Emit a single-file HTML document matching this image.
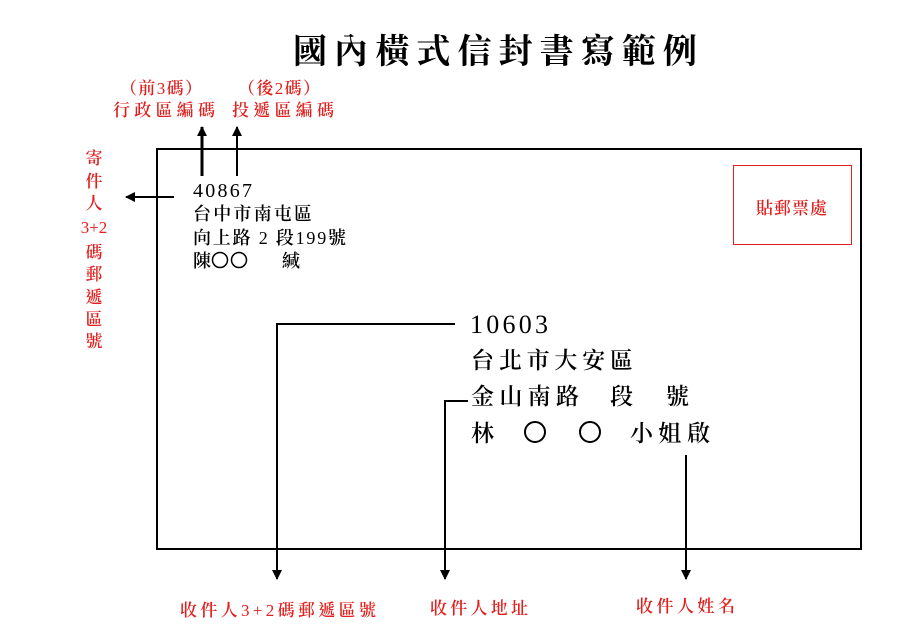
<!DOCTYPE html>
<html><head><meta charset="utf-8"><style>
html,body{margin:0;padding:0;background:#fff;}
svg{display:block;}
text{font-family:"Liberation Serif","Noto Serif CJK TC","Noto Serif CJK SC",serif;font-weight:600;}
text.n{font-weight:normal;}
text.t{font-weight:bold;}
</style></head><body>
<svg width="900" height="636" viewBox="0 0 900 636" xmlns="http://www.w3.org/2000/svg">
<defs>
<marker id="ah" markerWidth="10" markerHeight="10" refX="9" refY="5" orient="auto" markerUnits="userSpaceOnUse">
<path d="M0,0 L10,5 L0,10 Z" fill="#000"/>
</marker>
</defs>
<text class="t" x="293" y="63" font-size="34" textLength="404" lengthAdjust="spacing" fill="#000">國內橫式信封書寫範例</text>
<g fill="#e0201e" font-size="17">
<text x="120" y="94" textLength="82" lengthAdjust="spacing">（前<tspan style="font-weight:normal">3</tspan>碼）</text>
<text x="113" y="116" textLength="102" lengthAdjust="spacing">行政區編碼</text>
<text x="238" y="94" textLength="82" lengthAdjust="spacing">（後<tspan style="font-weight:normal">2</tspan>碼）</text>
<text x="232" y="116" textLength="102" lengthAdjust="spacing">投遞區編碼</text>
<g text-anchor="middle">
<text x="94" y="164">寄</text>
<text x="94" y="187">件</text>
<text x="94" y="209">人</text>
<text class="n" x="94" y="233">3+2</text>
<text x="94" y="258">碼</text>
<text x="94" y="280">郵</text>
<text x="94" y="303">遞</text>
<text x="94" y="325">區</text>
<text x="94" y="347">號</text>
</g>
<text x="180" y="616" textLength="196" lengthAdjust="spacing">收件人<tspan style="font-weight:normal">3+2</tspan>碼郵遞區號</text>
<text x="430" y="614" textLength="98" lengthAdjust="spacing">收件人地址</text>
<text x="636" y="612" textLength="99" lengthAdjust="spacing">收件人姓名</text>
</g>
<rect x="157" y="149" width="704" height="400" fill="none" stroke="#000" stroke-width="2"/>
<rect x="733.5" y="165.5" width="118" height="79" fill="none" stroke="#e0201e" stroke-width="1"/>
<text x="792" y="214" font-size="17" fill="#e0201e" text-anchor="middle" letter-spacing="1">貼郵票處</text>
<line x1="202" y1="176" x2="202" y2="127" stroke="#000" stroke-width="3" marker-end="url(#ah)"/>
<line x1="237" y1="176" x2="237" y2="127" stroke="#000" stroke-width="2" marker-end="url(#ah)"/>
<line x1="174" y1="197" x2="126" y2="197" stroke="#000" stroke-width="2" marker-end="url(#ah)"/>
<g fill="#000" font-size="18">
<text class="n" x="193" y="197" font-size="20" textLength="59" lengthAdjust="spacing">40867</text>
<text x="193" y="220" textLength="119" lengthAdjust="spacing">台中市南屯區</text>
<text x="193" y="244" textLength="153" lengthAdjust="spacing">向上路 <tspan style="font-weight:normal">2</tspan> 段<tspan style="font-weight:normal">199</tspan>號</text>
<text x="193" y="267">陳</text>
<text x="282" y="267">緘</text>
</g>
<circle cx="220" cy="260" r="7.5" fill="none" stroke="#000" stroke-width="1.5"/>
<circle cx="239" cy="260" r="7.5" fill="none" stroke="#000" stroke-width="1.5"/>
<g fill="#000" font-size="23">
<text class="n" x="470" y="333" font-size="26" textLength="78" lengthAdjust="spacing">10603</text>
<text x="471" y="368" textLength="162" lengthAdjust="spacing">台北市大安區</text>
<text x="471" y="404" textLength="108" lengthAdjust="spacing">金山南路</text>
<text x="610" y="404">段</text>
<text x="666" y="404">號</text>
<text x="471" y="441">林</text>
<text x="630" y="441" textLength="80" lengthAdjust="spacing">小姐啟</text>
</g>
<circle cx="535" cy="432" r="10" fill="none" stroke="#000" stroke-width="2"/>
<circle cx="590" cy="432" r="10" fill="none" stroke="#000" stroke-width="2"/>
<polyline points="455,324 277,324 277,579" fill="none" stroke="#000" stroke-width="2" marker-end="url(#ah)"/>
<polyline points="468,401 445,401 445,579" fill="none" stroke="#000" stroke-width="2" marker-end="url(#ah)"/>
<line x1="686" y1="455" x2="686" y2="579" stroke="#000" stroke-width="2" marker-end="url(#ah)"/>
</svg>
</body></html>
